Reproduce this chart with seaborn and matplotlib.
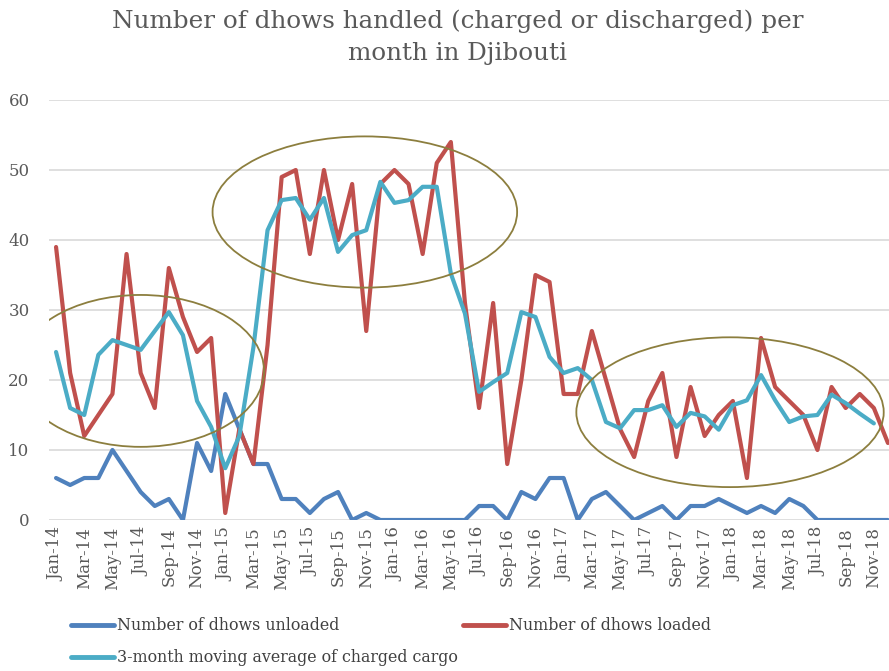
import numpy as np
import pandas as pd
import seaborn as sns
import matplotlib
matplotlib.use("Agg")
import matplotlib.pyplot as plt
from matplotlib.patches import Ellipse
from matplotlib.lines import Line2D

# monthly data Jan-14 .. Dec-18
months = pd.date_range("2014-01-01", "2018-12-01", freq="MS").strftime("%b-%y").tolist()

unloaded = [6, 5, 6, 6, 10, 7, 4, 2, 3, 0, 11, 7,
            18, 13, 8, 8, 3, 3, 1, 3, 4, 0, 1, 0,
            0, 0, 0, 0, 0, 0, 2, 2, 0, 4, 3, 6,
            6, 0, 3, 4, 2, 0, 1, 2, 0, 2, 2, 3,
            2, 1, 2, 1, 3, 2, 0, 0, 0, 0, 0, 0]

loaded = [39, 21, 12, 15, 18, 38, 21, 16, 36, 29, 24, 26,
          1, 13, 8, 25, 49, 50, 38, 50, 40, 48, 27, 48,
          50, 48, 38, 51, 54, 31, 16, 31, 8, 20, 35, 34,
          18, 18, 27, 20, 13, 9, 17, 21, 9, 19, 12, 15,
          17, 6, 26, 19, 17, 15, 10, 19, 16, 18, 16, 11]

moving_avg = [24, 16, 15, 23.6, 25.7, 25, 24.3, 27, 29.7, 26.4, 17, 13.3,
              7.4, 12, 24.7, 41.4, 45.7, 46, 42.9, 46, 38.3, 40.7, 41.4, 48.3,
              45.3, 45.7, 47.6, 47.6, 35.2, 29.5, 18.3, 19.7, 21, 29.7, 29, 23.3,
              21, 21.7, 20, 14, 13.1, 15.7, 15.7, 16.4, 13.3, 15.3, 14.8, 12.9,
              16.4, 17.1, 20.7, 17.1, 14, 14.8, 15, 17.9, 16.7, 15.2, 13.8, np.nan]

df = pd.DataFrame({"idx": np.arange(len(months)), "month": months,
                   "unloaded": unloaded, "loaded": loaded, "avg": moving_avg})

sns.set_style("white")
plt.rcParams['font.family'] = ['DejaVu Serif']

fig = plt.figure(figsize=(8.89, 6.71), dpi=100)
ax = fig.add_axes([49/889, 151/671, 846/889, 420/671])

blue = "#4F81BD"
red = "#C0504D"
cyan = "#4BACC6"

sns.lineplot(data=df, x="idx", y="unloaded", color=blue, linewidth=3, ax=ax)
sns.lineplot(data=df, x="idx", y="loaded", color=red, linewidth=3, ax=ax)
sns.lineplot(data=df, x="idx", y="avg", color=cyan, linewidth=3, ax=ax)

# highlight ellipses
for cx, cy, w, h in [(6.0, 21.3, 17.5, 21.7), (21.9, 44, 21.6, 21.6), (47.8, 15.4, 21.8, 21.4)]:
    ax.add_patch(Ellipse((cx, cy), w, h, fill=False, edgecolor="#8C7E3E", linewidth=1.3, zorder=5))

ax.set_xlim(-0.5, 59.5)
ax.set_ylim(0, 60)
ax.set_yticks(range(0, 61, 10))
ax.set_xticks(df["idx"][::2])
ax.set_xticklabels(df["month"][::2], rotation=90, fontsize=12, color="#595959")
ax.tick_params(axis="y", labelsize=12, labelcolor="#595959", length=0, pad=14)
ax.tick_params(axis="x", length=0, pad=5)
ax.grid(axis="y", color="#D9D9D9", linewidth=1.2)
ax.set_axisbelow(True)
for s in ax.spines.values():
    s.set_visible(False)
ax.set_xlabel("")
ax.set_ylabel("")

fig.text(458/889, 1 - 9/671, "Number of dhows handled (charged or discharged) per\nmonth in Djibouti",
         ha="center", va="top", fontsize=17.7, color="#595959", linespacing=1.55)

handles = [Line2D([], [], color=blue, lw=3.5),
           Line2D([], [], color=cyan, lw=3.5),
           Line2D([], [], color=red, lw=3.5)]
labels = ["Number of dhows unloaded", "3-month moving average of charged cargo", "Number of dhows loaded"]
fig.legend(handles, labels, ncol=2, loc="upper left", bbox_to_anchor=(57/889, 1 - 603/671),
           frameon=False, fontsize=11.4, handlelength=2.7, handletextpad=0.2,
           columnspacing=0.3, labelspacing=0.95, labelcolor="#404040")

fig.savefig("out.png", dpi=100)
